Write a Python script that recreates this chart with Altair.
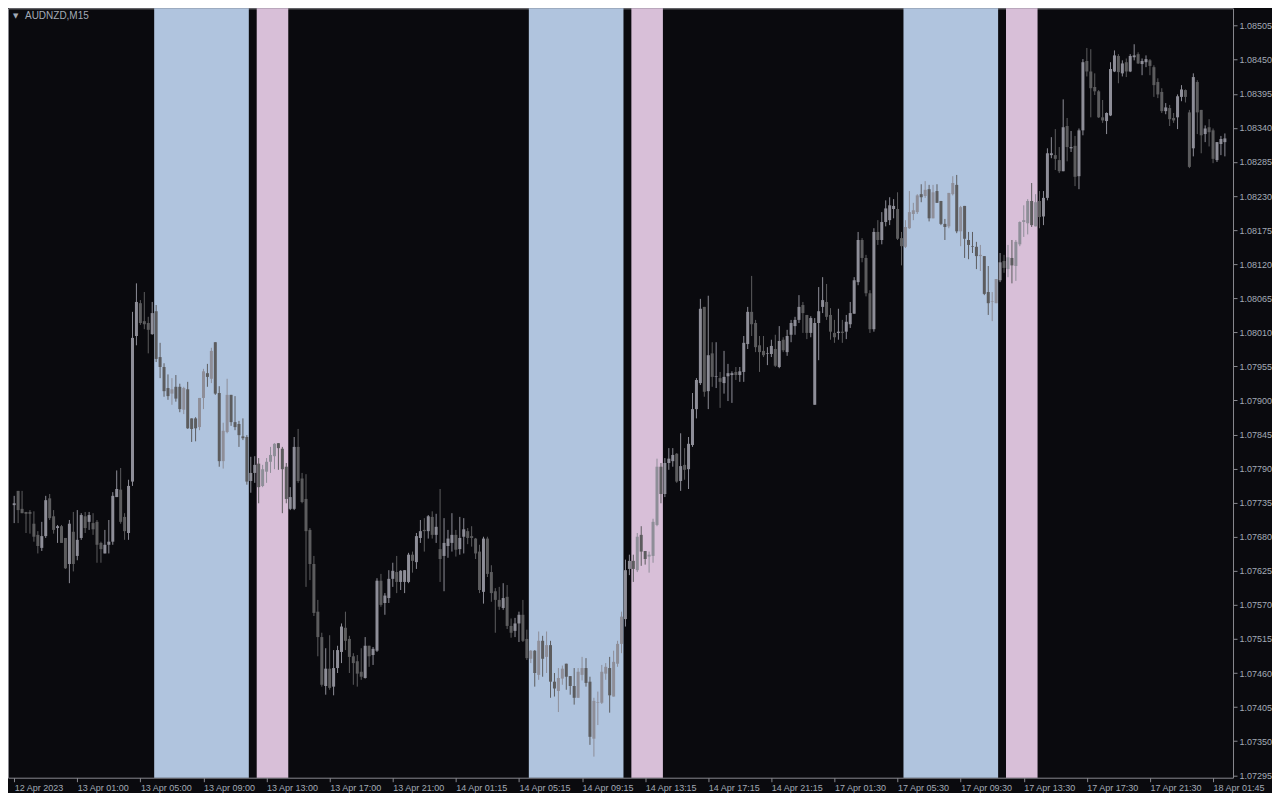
import altair as alt
import pandas as pd

# ---- candle data (price in points, 1 point = 0.00001) ----
OPEN = [
107731,107754,107725,107720,107720,107701,107683,107662,107681,107742,
107713,107694,107697,107678,107636,107688,107649,107678,107713,107704,
107702,107704,107670,107653,107667,107672,107744,107756,107712,107686,
107769,108004,108057,108028,108025,108007,108044,107970,107954,107920,
107911,107922,107922,107885,107918,107871,107871,107857,107904,107944,
107935,107994,107912,107802,107849,107909,107865,107862,107842,107841,
107770,107783,107798,107762,107785,107801,107810,107831,107822,107793,
107725,107725,107825,107774,107741,107691,107636,107559,107518,107439,
107467,107438,107468,107494,107533,107515,107487,107479,107462,107452,
107504,107489,107496,107609,107573,107581,107612,107623,107607,107607,
107607,107651,107639,107678,107691,107689,107712,107683,107660,107649,
107665,107670,107683,107660,107680,107689,107681,107677,107656,107591,
107677,107623,107592,107578,107565,107583,107536,107528,107540,107554,
107515,107483,107496,107457,107512,107486,107505,107446,107431,107451,
107475,107455,107439,107420,107457,107468,107446,107354,107412,107412,
107459,107468,107422,107475,107507,107547,107628,107641,107626,107683,
107657,107648,107649,107699,107793,107749,107799,107802,107814,107770,
107796,107789,107828,107886,107928,108051,107915,107976,107938,107936,
107928,107939,107941,107946,107941,107946,107991,108043,108025,107989,
107980,107975,107975,107983,107954,107998,107978,108006,108020,108030,
108054,108038,108009,107893,108025,108051,108059,108038,108009,108009,
108011,108011,108023,108040,108091,108159,108130,108073,108015,108172,
108159,108188,108191,108209,108209,108162,108148,108178,108201,108204,
108233,108230,108241,108194,108238,108222,108185,108181,108233,108248,
108173,108214,108159,108149,108148,108133,108133,108075,108059,108057,
108094,108125,108112,108130,108117,108152,108188,108186,108222,108181,
108222,108197,108227,108296,108296,108288,108270,108343,108307,108311,
108262,108336,108448,108431,108406,108399,108357,108351,108360,108431,
108456,108428,108446,108431,108454,108459,108443,108446,108449,108438,
108414,108398,108367,108372,108356,108357,108390,108401,108365,108307,
108414,108369,108330,108341,108336,108288,108314,108317,
]
HIGH = [
107746,107754,107754,107720,107723,107721,107689,107704,107746,107749,
107723,107699,107699,107678,107707,107720,107723,107718,107720,107720,
107718,107707,107672,107691,107707,107752,107787,107791,107718,107772,
108043,108089,108062,108075,108035,108059,108054,107993,107960,107942,
107936,107941,107927,107922,107930,107871,107873,107904,107951,107959,
107985,107994,107923,107864,107935,107909,107907,107867,107871,107844,
107809,107810,107807,107796,107807,107825,107831,107831,107825,107799,
107760,107841,107854,107783,107781,107694,107649,107578,107525,107500,
107521,107497,107504,107540,107559,107520,107492,107489,107500,107518,
107504,107502,107613,107620,107589,107626,107638,107649,107626,107626,
107654,107656,107686,107707,107710,107715,107721,107717,107757,107710,
107691,107718,107691,107712,107710,107694,107697,107678,107667,107680,
107680,107634,107597,107599,107605,107602,107548,107549,107559,107578,
107530,107497,107497,107527,107520,107527,107512,107460,107468,107472,
107475,107455,107468,107468,107486,107484,107454,107420,107430,107473,
107476,107486,107496,107512,107559,107643,107651,107651,107686,107697,
107657,107656,107709,107806,107799,107807,107823,107823,107815,107847,
107823,107841,107912,107936,108064,108051,108069,107994,107994,107946,
107980,107959,107947,107954,107954,108004,108051,108101,108030,108004,
108004,107986,107998,108006,108020,108002,108014,108030,108035,108070,
108059,108038,108036,108033,108083,108099,108088,108049,108030,108048,
108030,108038,108059,108099,108172,108162,108135,108078,108178,108191,
108204,108223,108228,108225,108236,108172,108191,108238,108219,108233,
108249,108254,108248,108248,108249,108222,108193,108235,108262,108264,
108214,108214,108172,108172,108156,108151,108133,108117,108075,108096,
108138,108135,108151,108159,108159,108189,108215,108225,108251,108233,
108238,108238,108307,108325,108338,108309,108386,108356,108335,108327,
108339,108451,108469,108467,108428,108401,108385,108365,108446,108465,
108459,108449,108452,108459,108475,108462,108452,108457,108451,108441,
108420,108404,108380,108377,108364,108394,108409,108402,108369,108428,
108417,108369,108344,108354,108339,108317,108327,108331,
]
LOW = [
107702,107702,107718,107686,107685,107672,107653,107657,107678,107707,
107685,107670,107670,107628,107605,107624,107642,107675,107686,107691,
107683,107638,107638,107653,107653,107667,107744,107701,107675,107675,
107762,107989,108022,108015,107976,108006,107962,107936,107906,107901,
107893,107898,107881,107878,107854,107833,107834,107852,107886,107922,
107928,107909,107793,107790,107847,107859,107852,107825,107836,107764,
107751,107767,107734,107760,107767,107783,107789,107788,107718,107734,
107723,107723,107767,107734,107599,107610,107552,107487,107438,107425,
107433,107424,107460,107476,107497,107460,107441,107438,107449,107451,
107470,107473,107494,107567,107554,107573,107599,107589,107594,107589,
107605,107622,107628,107670,107656,107677,107677,107670,107607,107592,
107646,107656,107648,107651,107653,107668,107664,107644,107589,107572,
107615,107575,107525,107562,107562,107531,107517,107518,107510,107510,
107481,107476,107438,107449,107454,107460,107420,107422,107397,107441,
107433,107425,107409,107420,107448,107438,107344,107325,107376,107410,
107449,107396,107422,107470,107492,107535,107618,107607,107623,107633,
107635,107622,107638,107697,107734,107744,107788,107793,107767,107754,
107772,107757,107825,107871,107925,107906,107886,107922,107920,107888,
107911,107899,107896,107933,107930,107930,107983,108004,107978,107946,
107970,107957,107970,107954,107952,107978,107972,107994,108006,108025,
108009,107999,108002,107893,107965,108041,108030,107998,107993,107998,
107993,107999,108017,108040,108086,108123,108068,108009,108011,108151,
108152,108181,108183,108194,108159,108118,108146,108177,108191,108201,
108220,108227,108189,108194,108219,108183,108159,108178,108231,108170,
108149,108130,108128,108138,108112,108109,108070,108038,108028,108057,
108091,108106,108099,108089,108093,108149,108164,108168,108180,108181,
108178,108183,108223,108291,108272,108267,108270,108286,108301,108246,
108241,108328,108423,108357,108393,108356,108348,108330,108359,108430,
108412,108423,108422,108430,108449,108443,108425,108438,108425,108390,
108388,108364,108362,108343,108348,108338,108383,108381,108275,108294,
108330,108299,108317,108310,108283,108285,108296,108294,
]
CLOSE = [
107734,107723,107718,107717,107717,107680,107665,107681,107739,107710,
107691,107697,107670,107629,107701,107636,107675,107715,107694,107715,
107692,107667,107660,107667,107672,107746,107757,107704,107689,107762,
108001,108059,108025,108023,108014,108041,107967,107954,107915,107907,
107918,107903,107886,107920,107855,107854,107855,107904,107947,107938,
107980,107911,107802,107851,107909,107865,107857,107844,107839,107769,
107783,107796,107760,107789,107801,107812,107830,107823,107789,107741,
107744,107825,107770,107736,107689,107636,107557,107518,107441,107467,
107436,107468,107497,107535,107512,107486,107476,107459,107454,107504,
107487,107499,107609,107570,107585,107612,107625,107607,107625,107626,
107651,107641,107681,107689,107689,107713,107683,107696,107644,107670,
107677,107683,107659,107678,107692,107678,107678,107653,107594,107677,
107620,107589,107578,107567,107581,107536,107525,107540,107554,107512,
107484,107496,107460,107512,107483,107505,107446,107435,107452,107467,
107454,107439,107420,107462,107468,107444,107357,107415,107413,107462,
107470,107424,107478,107507,107551,107626,107641,107628,107680,107656,
107644,107651,107704,107793,107749,107799,107806,107812,107769,107794,
107788,107830,107886,107933,108048,107914,107973,107938,107939,107930,
107938,107944,107944,107941,107947,107993,108043,108023,107986,107978,
107973,107976,107988,107956,107996,107981,108004,108025,108030,108051,
108041,108009,108033,108025,108044,108062,108035,108011,108002,108011,
108009,108027,108041,108094,108159,108130,108073,108015,108172,108159,
108188,108210,108215,108214,108161,108149,108180,108204,108207,108231,
108228,108240,108194,108236,108219,108185,108180,108235,108251,108173,
108212,108161,108151,108148,108133,108135,108072,108057,108060,108096,
108123,108114,108131,108118,108156,108188,108191,108222,108183,108220,
108196,108227,108299,108299,108290,108270,108341,108309,108309,108261,
108336,108446,108431,108404,108399,108357,108352,108364,108435,108457,
108430,108444,108431,108456,108457,108444,108448,108451,108440,108409,
108394,108367,108373,108354,108352,108391,108402,108390,108277,108422,
108365,108328,108339,108333,108290,108317,108322,108323,
]

# ---- session bands (in candle index units) ----
BAND_START = [35.5, 61.5, 130.5, 156.5, 225.5, 251.5]
BAND_END = [59.5, 69.5, 154.5, 164.5, 249.5, 259.5]
BAND_KIND = ["s1", "s2", "s1", "s2", "s1", "s2"]

# ---- axis labels ----
TIME_TICKS = list(range(0, 305, 16))
TIME_LABELS = [
    "12 Apr 2023", "13 Apr 01:00", "13 Apr 05:00", "13 Apr 09:00", "13 Apr 13:00",
    "13 Apr 17:00", "13 Apr 21:00", "14 Apr 01:15", "14 Apr 05:15", "14 Apr 09:15",
    "14 Apr 13:15", "14 Apr 17:15", "14 Apr 21:15", "17 Apr 01:30", "17 Apr 05:30",
    "17 Apr 09:30", "17 Apr 13:30", "17 Apr 17:30", "17 Apr 21:30", "18 Apr 01:45",
]
PRICE_TICKS = [
    1.07295, 1.07350, 1.07405, 1.07460, 1.07515, 1.07570, 1.07625, 1.07680,
    1.07735, 1.07790, 1.07845, 1.07900, 1.07955, 1.08010, 1.08065, 1.08120,
    1.08175, 1.08230, 1.08285, 1.08340, 1.08395, 1.08450, 1.08505,
]
SYMBOL = "AUDNZD,M15"

BG = "#0a0a0e"
TXT = "#a3aab6"
FRAME = "#8a8a90"
UP = "#8e8e98"
DOWN = "#5c5c5e"
FONT = "Liberation Sans"

df = pd.DataFrame({
    "i": list(range(len(CLOSE))),
    "open": [v / 100000 for v in OPEN],
    "high": [v / 100000 for v in HIGH],
    "low": [v / 100000 for v in LOW],
    "close": [v / 100000 for v in CLOSE],
})
bands = pd.DataFrame({"start": BAND_START, "end": BAND_END, "kind": BAND_KIND})

W, H = 1226, 770
xscale = alt.Scale(domain=[-0.3, 307.8], nice=False, zero=False)
yscale = alt.Scale(domain=[1.07291, 1.08533], nice=False, zero=False)

label_array = "[" + ",".join("'" + t + "'" for t in TIME_LABELS) + "]"

xaxis = alt.Axis(
    values=TIME_TICKS, labelExpr=label_array + "[round(datum.value/16)]",
    orient="bottom", grid=False, domain=False, ticks=True, tickSize=4,
    tickColor=FRAME, labelColor=TXT, labelFont=FONT, labelFontSize=9,
    labelAlign="left", labelBaseline="top", labelPadding=2, labelOffset=0,
    labelOverlap=False, labelBound=False, labelFlush=False, title=None,
)
yaxis = alt.Axis(
    values=PRICE_TICKS, format=".5f", orient="right", grid=False, domain=False,
    ticks=True, tickSize=4, tickColor=FRAME, labelColor=TXT, labelFont=FONT,
    labelFontSize=9, labelPadding=2, labelOverlap=False, labelBound=False,
    labelFlush=False, title=None,
)

band_layer = alt.Chart(bands).mark_rect().encode(
    x=alt.X("start:Q", scale=xscale, axis=xaxis),
    x2="end:Q",
    color=alt.Color("kind:N", scale=alt.Scale(domain=["s1", "s2"], range=["#b0c4de", "#d8bfd8"]), legend=None),
)

candle_color = alt.condition("datum.close >= datum.open", alt.value(UP), alt.value(DOWN))

wicks = alt.Chart(df).mark_rule(strokeWidth=1).encode(
    x=alt.X("i:Q", scale=xscale, axis=xaxis),
    y=alt.Y("low:Q", scale=yscale, axis=yaxis),
    y2="high:Q",
    color=candle_color,
)
bodies = alt.Chart(df).mark_bar(size=3).encode(
    x=alt.X("i:Q", scale=xscale, axis=xaxis),
    y=alt.Y("open:Q", scale=yscale, axis=yaxis),
    y2="close:Q",
    color=candle_color,
)

title_df = pd.DataFrame({"label": [SYMBOL]})
title_txt = alt.Chart(title_df).mark_text(
    align="left", baseline="middle", font=FONT, fontSize=10, color=TXT
).encode(x=alt.value(17), y=alt.value(8), text="label:N")
tri = alt.Chart(title_df).mark_text(
    align="left", baseline="middle", font="DejaVu Sans", fontSize=7, color=TXT
).encode(x=alt.value(5), y=alt.value(8), text=alt.value("▼"))

chart = alt.layer(band_layer, wicks, bodies, title_txt, tri).properties(
    width=W, height=H, background=BG,
    padding={"left": 0, "top": 0, "right": 0, "bottom": 0},
).configure_view(stroke=FRAME, strokeWidth=1, fill=BG)

chart.save("out.html", embed_options={"renderer": "svg", "actions": False})
